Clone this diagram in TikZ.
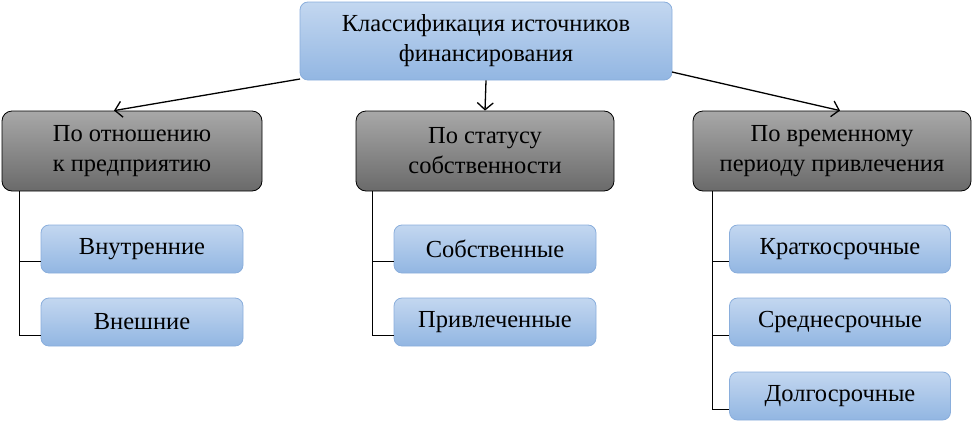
\documentclass[tikz,border=0pt]{standalone}
\usepackage{fontspec}
\setmainfont{Liberation Serif}
\usetikzlibrary{arrows.meta}
\tikzset{
  x=1pt,y=-1pt,
  bluebox/.style={draw=blueLine, rounded corners=8pt, top color=blueTop, bottom color=blueBot, align=center, font=\fontsize{24.5}{30}\selectfont, inner sep=0pt, line width=0.8pt},
  graybox/.style={draw=black, rounded corners=10pt, top color=grayTop, bottom color=grayBot, align=center, font=\fontsize{24.5}{30}\selectfont, inner sep=0pt, line width=0.8pt},
  arr/.style={-{Straight Barb[length=7pt,width=16pt]}, line width=1.3pt},
  tree/.style={line width=0.7pt}
}
\definecolor{blueTop}{HTML}{C3D7F0}
\definecolor{blueBot}{HTML}{92B6E2}
\definecolor{blueLine}{HTML}{8AAEDC}
\definecolor{grayTop}{HTML}{A8A8A8}
\definecolor{grayBot}{HTML}{6A6A6A}
\begin{document}
\begin{tikzpicture}
\useasboundingbox (0,0) rectangle (973,423);
\node[bluebox, minimum width=372pt, minimum height=78pt] (top) at (486,41) {Классификация источников\\финансирования};
\node[graybox, minimum width=260pt, minimum height=80pt] (g1) at (132,151) {По отношению\\к предприятию};
\node[graybox, minimum width=258pt, minimum height=80pt] (g2) at (485,151) {По статусу\\собственности};
\node[graybox, minimum width=278pt, minimum height=80pt] (g3) at (832,151) {По временному\\периоду привлечения};
\node[bluebox, minimum width=202pt, minimum height=48pt] (a1) at (142,249) {Внутренние};
\node[bluebox, minimum width=202pt, minimum height=48pt] (a2) at (142,322) {Внешние};
\node[bluebox, minimum width=202pt, minimum height=48pt] (b1) at (495,249) {Собственные};
\node[bluebox, minimum width=202pt, minimum height=48pt] (b2) at (495,322) {Привлеченные};
\node[bluebox, minimum width=221pt, minimum height=48pt] (c1) at (840,249) {Краткосрочные};
\node[bluebox, minimum width=221pt, minimum height=48pt] (c2) at (840,322) {Среднесрочные};
\node[bluebox, minimum width=221pt, minimum height=48pt] (c3) at (840,396) {Долгосрочные};
\coordinate (t1) at (300,79);
\coordinate (t3) at (672,72);
\draw[arr] (t1) -- (g1.north -| 114,0);
\draw[arr] (top.south) -- (g2.north);
\draw[arr] (t3) -- (g3.north -| 840,0);
\draw[tree] (g1.south -| 19,0) |- (a2.west |- 0,335);
\draw[tree] (19,261) -- (a1.west |- 0,261);
\draw[tree] (g2.south -| 372,0) |- (b2.west |- 0,335);
\draw[tree] (372,261) -- (b1.west |- 0,261);
\draw[tree] (g3.south -| 712,0) |- (c3.west |- 0,409);
\draw[tree] (712,261) -- (c1.west |- 0,261);
\draw[tree] (712,335) -- (c2.west |- 0,335);
\end{tikzpicture}
\end{document}
